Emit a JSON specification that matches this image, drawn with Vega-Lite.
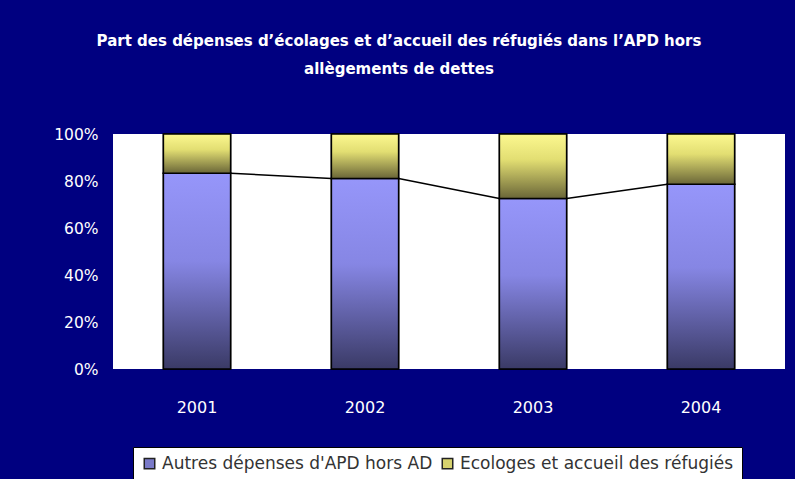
{
  "$schema": "https://vega.github.io/schema/vega-lite/v6.json",
  "width": 672,
  "height": 235,
  "autosize": "none",
  "padding": {"left": 113, "top": 134, "right": 10, "bottom": 110},
  "background": "#000080",
  "config": {
    "view": {"fill": "white", "stroke": null},
    "font": "DejaVu Sans",
    "axisY": {
      "labelColor": "white",
      "labelFontSize": 15.5,
      "labelFont": "DejaVu Sans",
      "labelPadding": 15,
      "ticks": false,
      "domain": false,
      "grid": false
    }
  },
  "title": {
    "text": ["Part des dépenses d’écolages et d’accueil des réfugiés dans l’APD hors", "allègements de dettes"],
    "color": "white",
    "fontSize": 15,
    "fontWeight": "bold",
    "font": "DejaVu Sans",
    "anchor": "middle",
    "frame": "group",
    "dx": -50,
    "offset": 50,
    "lineHeight": 28
  },
  "data": {
    "values": [
      {"year": "2001", "series": "Autres dépenses d'APD hors AD", "value": 0.833},
      {"year": "2001", "series": "Ecologes et accueil des réfugiés", "value": 0.167},
      {"year": "2002", "series": "Autres dépenses d'APD hors AD", "value": 0.811},
      {"year": "2002", "series": "Ecologes et accueil des réfugiés", "value": 0.189},
      {"year": "2003", "series": "Autres dépenses d'APD hors AD", "value": 0.726},
      {"year": "2003", "series": "Ecologes et accueil des réfugiés", "value": 0.274},
      {"year": "2004", "series": "Autres dépenses d'APD hors AD", "value": 0.786},
      {"year": "2004", "series": "Ecologes et accueil des réfugiés", "value": 0.214}
    ]
  },
  "encoding": {
    "x": {
      "field": "year",
      "type": "ordinal",
      "scale": {"paddingInner": 0.6, "paddingOuter": 0.3},
      "axis": {
        "title": null,
        "labelAngle": 0,
        "labelColor": "white",
        "labelFontSize": 16,
        "labelFont": "DejaVu Sans",
        "labelPadding": 30,
        "ticks": false,
        "domain": false,
        "grid": false
      }
    }
  },
  "layer": [
    {
      "mark": {"type": "bar", "stroke": "black", "strokeWidth": 1.5},
      "encoding": {
        "y": {
          "field": "value",
          "type": "quantitative",
          "stack": "zero",
          "scale": {"domain": [0, 1]},
          "axis": {"title": null, "format": ".0%", "values": [0, 0.2, 0.4, 0.6, 0.8, 1]}
        },
        "fill": {
          "field": "series",
          "type": "nominal",
          "scale": {"range": ["#7a7ac8", "#d6d26e"]},
          "legend": {
            "orient": "none",
            "legendX": 20,
            "legendY": 313,
            "direction": "horizontal",
            "title": null,
            "fillColor": "white",
            "strokeColor": "black",
            "padding": 8,
            "symbolType": "square",
            "symbolSize": 110,
            "symbolStrokeColor": "#222",
            "symbolStrokeWidth": 1.5,
            "labelFont": "DejaVu Sans",
            "labelFontSize": 17,
            "labelColor": "#333",
            "labelLimit": 0,
            "columnPadding": 6,
            "labelOffset": 4
          }
        },
        "order": {"field": "series", "sort": "ascending"}
      }
    },
    {
      "mark": {"type": "bar", "stroke": "black", "strokeWidth": 1.5},
      "encoding": {
        "y": {
          "field": "value",
          "type": "quantitative",
          "stack": "zero",
          "axis": {"title": null, "format": ".0%", "values": [0, 0.2, 0.4, 0.6, 0.8, 1]}
        },
        "detail": {"field": "series", "type": "nominal"},
        "order": {"field": "series", "sort": "ascending"},
        "fill": {
          "condition": {
            "test": "datum.series[0] === 'A'",
            "value": {
              "gradient": "linear", "x1": 0, "y1": 0, "x2": 0, "y2": 1,
              "stops": [
                {"offset": 0, "color": "#9696fa"},
                {"offset": 0.45, "color": "#8686e4"},
                {"offset": 1, "color": "#3a3a66"}
              ]
            }
          },
          "value": {
            "gradient": "linear", "x1": 0, "y1": 0, "x2": 0, "y2": 1,
            "stops": [
              {"offset": 0, "color": "#fcf890"},
              {"offset": 0.4, "color": "#e2de72"},
              {"offset": 1, "color": "#6a6638"}
            ]
          }
        }
      }
    },
    {
      "transform": [
        {"filter": {"field": "series", "equal": "Autres dépenses d'APD hors AD"}},
        {
          "window": [
            {"op": "lead", "field": "year", "as": "nextYear"},
            {"op": "lead", "field": "value", "as": "nextValue"}
          ],
          "sort": [{"field": "year", "order": "ascending"}]
        },
        {"filter": "datum.nextYear != null"}
      ],
      "mark": {"type": "rule", "color": "black", "strokeWidth": 1.5, "xOffset": 33.6, "x2Offset": -33.6},
      "encoding": {
        "x2": {"field": "nextYear"},
        "y": {
          "field": "value",
          "type": "quantitative",
          "axis": {"title": null, "format": ".0%", "values": [0, 0.2, 0.4, 0.6, 0.8, 1]}
        },
        "y2": {"field": "nextValue"}
      }
    }
  ]
}
